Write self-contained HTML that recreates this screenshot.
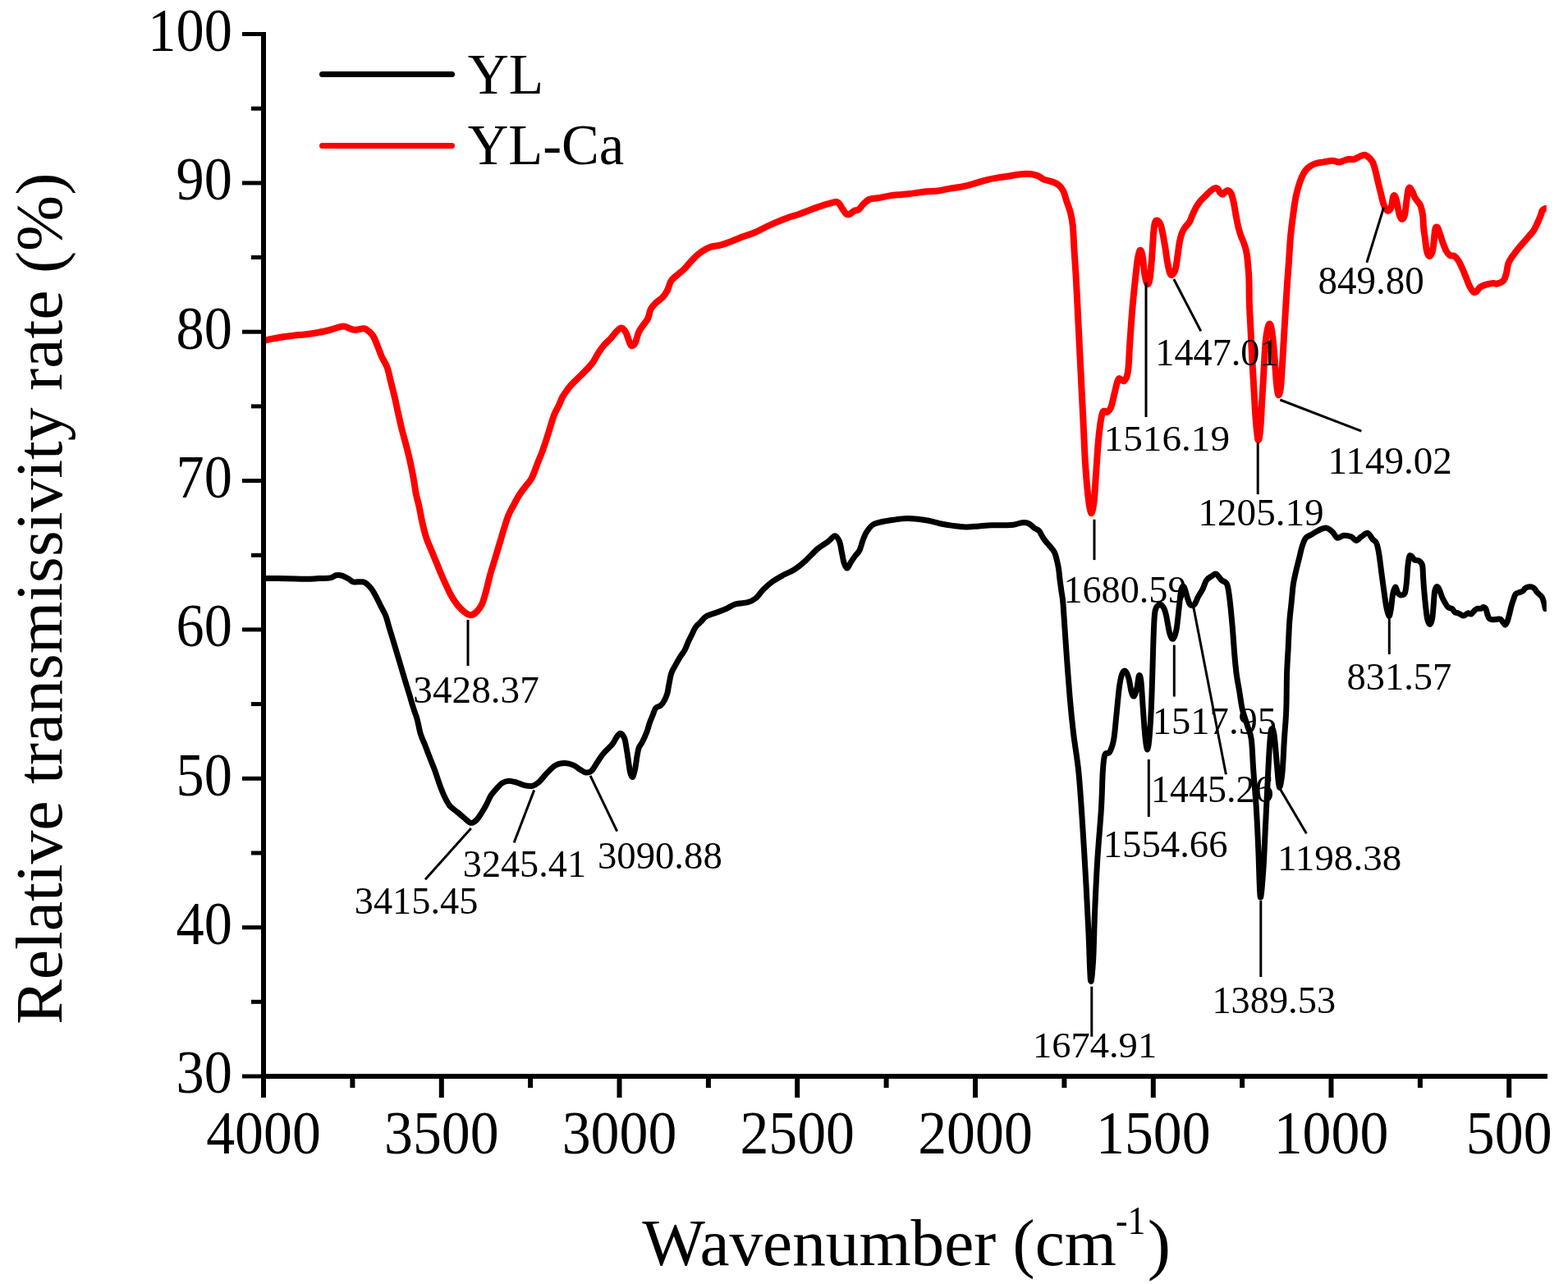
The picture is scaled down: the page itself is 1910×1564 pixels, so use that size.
<!DOCTYPE html>
<html><head><meta charset="utf-8"><title>FTIR spectra</title><style>html,body{margin:0;padding:0;background:#fff;overflow:hidden}svg{display:block}</style></head>
<body><svg width="1910" height="1564" viewBox="0 0 1910 1564">
<rect width="1910" height="1564" fill="#fff"/>
<defs><clipPath id="pc"><rect x="318" y="0" width="1565.8" height="1320"/></clipPath></defs>
<g clip-path="url(#pc)" fill="none" stroke-width="7" stroke-linejoin="round" stroke-linecap="round">
<path d="M321.0,704.6 C324.0,704.6 332.6,704.5 339.1,704.6 C345.6,704.7 354.3,704.9 360.2,705.0 C366.1,705.1 369.6,705.4 374.3,705.3 C379.0,705.2 383.6,704.8 388.3,704.6 C393.0,704.4 398.9,704.5 402.4,703.9 C405.9,703.3 407.0,701.3 409.4,700.8 C411.8,700.3 413.9,700.4 416.5,701.1 C419.1,701.9 422.6,704.0 424.9,705.3 C427.2,706.6 427.7,708.2 430.5,708.8 C433.3,709.4 439.0,708.3 441.8,708.8 C444.6,709.3 445.5,710.2 447.4,711.7 C449.3,713.2 451.1,715.3 453.0,718.0 C454.9,720.7 456.8,724.3 458.7,727.8 C460.6,731.3 462.4,735.4 464.3,739.1 C466.2,742.9 468.3,746.1 469.9,750.3 C471.5,754.5 472.7,759.7 474.1,764.4 C475.5,769.1 477.0,773.8 478.4,778.5 C479.8,783.2 481.2,787.8 482.6,792.5 C484.0,797.2 485.4,801.9 486.8,806.6 C488.2,811.3 489.6,816.0 491.0,820.7 C492.4,825.4 493.8,830.0 495.2,834.7 C496.6,839.4 498.1,844.1 499.5,848.8 C500.9,853.5 502.2,858.3 503.7,862.9 C505.1,867.5 506.8,871.1 508.2,876.3 C509.6,881.5 510.7,888.8 512.3,894.0 C513.9,899.2 515.7,902.4 517.7,907.6 C519.7,912.8 522.5,920.1 524.5,925.3 C526.5,930.5 528.1,934.0 529.9,939.0 C531.7,944.0 533.6,950.3 535.4,955.3 C537.2,960.3 538.8,964.6 540.8,968.9 C542.8,973.2 544.9,977.8 547.6,981.2 C550.3,984.6 554.2,986.8 557.2,989.3 C560.2,991.8 562.6,993.9 565.3,996.1 C568.0,998.3 571.0,1001.8 573.5,1002.3 C576.0,1002.8 578.0,1001.1 580.3,998.9 C582.6,996.7 585.0,992.5 587.1,989.3 C589.2,986.1 590.8,983.2 592.6,979.8 C594.4,976.4 596.0,972.1 598.0,968.9 C600.0,965.7 602.5,963.2 604.8,960.7 C607.1,958.2 609.1,955.5 611.6,953.9 C614.1,952.3 616.8,951.3 619.8,951.2 C622.8,951.1 626.1,952.3 629.3,953.2 C632.5,954.1 635.7,956.0 638.9,956.7 C642.1,957.4 645.5,958.0 648.4,957.3 C651.3,956.6 653.5,955.2 656.5,952.6 C659.5,950.0 662.7,945.1 666.1,941.7 C669.5,938.3 673.4,934.2 677.0,932.1 C680.6,930.0 684.3,929.4 687.9,929.4 C691.5,929.4 695.5,930.7 698.7,932.1 C701.9,933.5 704.4,936.1 706.9,937.6 C709.4,939.1 711.4,940.8 713.7,941.0 C716.0,941.2 718.0,941.4 720.5,939.0 C723.0,936.6 726.2,930.3 728.7,926.7 C731.2,923.1 732.6,920.6 735.5,917.2 C738.4,913.8 743.4,909.5 745.9,906.5 C748.4,903.5 748.7,901.3 750.3,899.1 C751.9,896.9 753.7,893.2 755.4,893.2 C757.1,893.2 759.2,895.7 760.6,899.1 C762.0,902.5 762.6,908.9 763.5,913.8 C764.4,918.7 765.0,923.8 765.7,928.5 C766.4,933.2 767.0,938.8 767.9,941.8 C768.8,944.8 769.9,947.2 770.9,946.2 C771.9,945.2 772.9,940.1 773.8,935.9 C774.6,931.7 775.3,925.4 776.0,921.2 C776.7,917.0 777.1,913.9 778.2,910.9 C779.3,907.9 781.0,906.7 782.6,903.5 C784.2,900.3 786.3,895.7 787.8,891.8 C789.3,887.9 790.3,883.4 791.5,880.0 C792.7,876.6 793.9,874.1 795.1,871.2 C796.3,868.3 797.2,864.4 798.8,862.4 C800.4,860.4 803.0,860.9 804.7,859.4 C806.4,857.9 807.8,856.0 809.1,853.5 C810.5,851.0 811.8,848.1 812.8,844.7 C813.8,841.3 814.1,837.1 815.0,832.9 C815.9,828.7 816.7,823.4 817.9,819.7 C819.1,816.0 820.7,814.1 822.4,810.9 C824.1,807.7 826.2,803.8 828.2,800.6 C830.2,797.4 832.4,795.0 834.1,791.8 C835.8,788.6 837.0,784.7 838.5,781.5 C840.0,778.3 841.4,775.6 842.9,772.6 C844.4,769.6 845.7,766.2 847.4,763.8 C849.1,761.3 851.0,760.1 853.2,757.9 C855.4,755.7 857.4,752.5 860.6,750.6 C863.8,748.7 868.5,747.7 872.4,746.2 C876.3,744.7 880.2,743.5 884.1,741.8 C888.0,740.1 891.4,737.2 895.9,735.9 C900.4,734.5 906.8,734.9 910.9,733.7 C915.0,732.5 917.2,731.5 920.4,728.9 C923.6,726.3 926.5,721.4 929.9,718.0 C933.3,714.6 936.7,711.5 940.8,708.5 C944.9,705.5 950.0,702.8 954.5,700.3 C959.0,697.8 963.6,696.5 968.1,693.5 C972.6,690.5 977.2,686.7 981.7,682.6 C986.2,678.5 990.8,672.9 995.3,669.0 C999.8,665.1 1005.3,662.2 1008.9,659.5 C1012.5,656.8 1014.8,652.7 1017.1,652.7 C1019.4,652.7 1021.1,656.3 1022.5,659.5 C1023.9,662.7 1024.3,667.4 1025.2,671.7 C1026.1,676.0 1026.9,681.9 1028.0,685.3 C1029.1,688.7 1030.7,692.1 1032.0,692.1 C1033.3,692.1 1034.5,687.8 1036.1,685.3 C1037.7,682.8 1039.8,679.7 1041.6,677.2 C1043.4,674.7 1045.4,673.6 1047.0,670.4 C1048.6,667.2 1049.7,661.7 1051.1,658.1 C1052.5,654.5 1053.2,651.8 1055.2,648.6 C1057.2,645.4 1059.8,641.4 1063.4,639.1 C1067.0,636.8 1072.5,636.0 1077.0,635.0 C1081.5,634.0 1086.1,633.5 1090.6,632.9 C1095.1,632.3 1099.7,631.7 1104.2,631.6 C1108.7,631.5 1113.3,631.8 1117.8,632.3 C1122.3,632.8 1126.9,633.4 1131.4,634.3 C1135.9,635.2 1140.1,636.7 1145.0,637.7 C1149.9,638.7 1155.6,639.7 1160.9,640.4 C1166.2,641.1 1171.3,641.8 1176.6,641.9 C1181.8,642.0 1187.2,641.2 1192.4,640.9 C1197.7,640.5 1202.9,640.0 1208.1,639.8 C1213.3,639.6 1219.4,639.9 1223.8,639.8 C1228.2,639.7 1230.7,639.8 1234.2,639.3 C1237.7,638.8 1241.6,637.0 1244.7,636.7 C1247.8,636.4 1250.5,636.6 1253.1,637.7 C1255.7,638.8 1258.3,642.0 1260.4,643.5 C1262.5,645.0 1263.8,644.3 1265.7,646.6 C1267.6,648.9 1269.8,654.1 1271.9,657.1 C1274.0,660.1 1276.1,661.9 1278.2,664.5 C1280.3,667.1 1282.9,669.7 1284.5,672.8 C1286.1,675.9 1286.7,679.8 1287.6,683.3 C1288.5,686.8 1289.2,690.3 1289.7,693.8 C1290.2,697.3 1290.3,699.8 1290.8,704.2 C1291.3,708.6 1292.2,714.8 1292.9,720.0 C1293.6,725.2 1294.1,724.7 1295.0,735.7 C1295.9,746.7 1297.1,767.5 1298.4,786.1 C1299.7,804.7 1301.5,829.6 1303.0,847.5 C1304.5,865.4 1305.8,878.1 1307.6,893.5 C1309.4,908.9 1312.0,921.7 1313.8,939.6 C1315.6,957.5 1316.9,978.0 1318.4,1001.0 C1319.9,1024.0 1321.7,1054.7 1323.0,1077.7 C1324.3,1100.7 1325.2,1119.6 1326.1,1139.1 C1327.0,1158.5 1327.6,1189.3 1328.5,1194.4 C1329.4,1199.5 1330.7,1184.1 1331.6,1169.8 C1332.5,1155.5 1332.8,1128.9 1333.7,1108.4 C1334.6,1087.9 1335.5,1067.5 1336.8,1047.0 C1338.1,1026.5 1340.3,1003.4 1341.4,985.6 C1342.5,967.8 1342.6,951.0 1343.3,940.0 C1344.0,929.0 1344.4,923.4 1345.8,919.4 C1347.2,915.4 1349.8,919.1 1351.6,916.1 C1353.4,913.1 1355.2,908.6 1356.6,901.1 C1358.0,893.6 1358.8,881.7 1359.9,871.2 C1361.0,860.7 1362.2,846.2 1363.3,837.9 C1364.4,829.6 1365.4,824.8 1366.6,821.3 C1367.8,817.8 1369.3,816.4 1370.7,817.2 C1372.1,818.0 1373.7,822.0 1374.9,826.3 C1376.2,830.6 1377.1,839.3 1378.2,842.9 C1379.3,846.5 1380.4,848.7 1381.5,847.9 C1382.6,847.1 1383.9,842.0 1384.9,837.9 C1385.9,833.8 1386.6,824.4 1387.4,823.0 C1388.2,821.6 1389.1,823.0 1389.9,829.6 C1390.7,836.2 1391.5,851.8 1392.3,862.9 C1393.1,874.0 1394.0,887.8 1394.8,896.1 C1395.6,904.4 1396.5,912.0 1397.3,912.8 C1398.1,913.6 1399.0,909.4 1399.8,901.1 C1400.6,892.8 1401.6,877.6 1402.3,862.9 C1403.0,848.2 1403.5,829.6 1404.0,813.0 C1404.5,796.4 1405.0,774.7 1405.6,763.1 C1406.1,751.5 1406.2,747.6 1407.3,743.2 C1408.4,738.8 1410.6,737.0 1412.3,736.5 C1414.0,736.0 1415.9,737.7 1417.3,739.9 C1418.7,742.1 1419.3,744.5 1420.6,749.8 C1421.8,755.0 1423.4,766.7 1424.8,771.4 C1426.2,776.1 1427.5,778.9 1428.9,778.1 C1430.3,777.3 1431.8,773.1 1433.1,766.5 C1434.3,759.9 1435.4,746.2 1436.4,738.2 C1437.4,730.2 1437.9,722.1 1438.9,718.2 C1439.9,714.3 1441.0,713.2 1442.2,714.9 C1443.5,716.6 1445.2,724.6 1446.4,728.2 C1447.7,731.8 1448.3,735.1 1449.7,736.5 C1451.1,737.9 1453.0,738.1 1454.7,736.5 C1456.4,734.9 1458.0,729.6 1459.7,726.6 C1461.4,723.6 1463.0,721.5 1464.7,718.2 C1466.4,714.9 1467.8,709.4 1469.7,706.6 C1471.6,703.8 1474.4,702.9 1476.3,701.6 C1478.2,700.4 1479.4,698.3 1481.3,699.1 C1483.2,699.9 1485.7,704.5 1487.9,706.6 C1490.1,708.7 1492.9,707.7 1494.6,711.6 C1496.3,715.5 1496.8,721.3 1497.9,729.9 C1499.0,738.5 1500.2,752.0 1501.2,763.1 C1502.2,774.2 1502.9,786.7 1503.7,796.4 C1504.5,806.1 1505.2,813.7 1506.2,821.3 C1507.2,828.9 1508.5,834.8 1509.7,842.0 C1510.9,849.2 1511.8,857.3 1513.4,864.3 C1515.0,871.2 1517.6,877.6 1519.4,883.7 C1521.2,889.8 1523.1,891.8 1524.3,900.7 C1525.5,909.6 1525.7,923.0 1526.7,937.2 C1527.7,951.4 1529.4,969.5 1530.4,985.7 C1531.4,1001.9 1532.0,1016.5 1532.8,1034.3 C1533.6,1052.1 1534.2,1088.5 1535.2,1092.6 C1536.2,1096.6 1537.9,1072.4 1538.9,1058.6 C1539.9,1044.8 1540.5,1026.2 1541.3,1010.0 C1542.1,993.8 1542.9,977.6 1543.7,961.4 C1544.5,945.2 1545.4,925.0 1546.2,912.9 C1547.0,900.8 1547.6,891.4 1548.6,888.6 C1549.6,885.8 1551.0,887.8 1552.2,895.9 C1553.4,904.0 1554.9,926.7 1555.9,937.2 C1556.9,947.7 1557.3,958.2 1558.3,959.0 C1559.3,959.8 1560.9,951.7 1561.9,942.0 C1562.9,932.3 1563.6,913.7 1564.4,900.7 C1565.2,887.8 1566.3,877.8 1566.8,864.3 C1567.3,850.8 1567.2,832.1 1567.6,819.5 C1568.0,806.9 1568.7,799.0 1569.2,788.8 C1569.7,778.6 1570.1,767.0 1570.7,758.1 C1571.3,749.2 1572.2,742.8 1573.0,735.1 C1573.8,727.4 1574.4,718.5 1575.3,712.1 C1576.2,705.7 1577.2,701.8 1578.4,696.7 C1579.6,691.6 1580.9,686.5 1582.2,681.4 C1583.5,676.3 1584.6,670.4 1586.0,666.0 C1587.4,661.6 1588.5,657.8 1590.6,655.3 C1592.6,652.8 1595.7,652.2 1598.3,650.7 C1600.9,649.2 1603.2,647.4 1606.0,646.1 C1608.8,644.8 1612.4,642.8 1615.2,643.0 C1618.0,643.2 1620.6,645.6 1622.9,647.6 C1625.2,649.6 1626.7,654.5 1629.0,655.3 C1631.3,656.1 1633.9,652.5 1636.7,652.2 C1639.5,652.0 1643.4,652.8 1645.9,653.8 C1648.5,654.8 1650.0,658.4 1652.0,658.4 C1654.0,658.4 1655.9,655.3 1658.2,653.8 C1660.5,652.3 1663.5,648.7 1665.8,649.2 C1668.1,649.7 1670.2,654.8 1672.0,656.8 C1673.8,658.8 1675.3,658.6 1676.6,661.4 C1677.9,664.2 1678.6,667.8 1679.6,673.7 C1680.6,679.6 1681.7,689.0 1682.7,696.7 C1683.7,704.4 1684.8,712.5 1685.8,719.7 C1686.8,726.9 1687.8,734.6 1688.8,739.7 C1689.8,744.8 1691.0,749.9 1691.9,750.4 C1692.8,750.9 1693.4,747.1 1694.2,742.8 C1695.0,738.4 1695.6,728.9 1696.5,724.3 C1697.4,719.7 1698.5,715.4 1699.6,715.1 C1700.7,714.9 1701.8,721.2 1703.1,722.8 C1704.4,724.4 1705.9,725.1 1707.3,724.9 C1708.7,724.7 1710.5,724.8 1711.5,721.8 C1712.5,718.8 1713.1,712.2 1713.6,707.1 C1714.1,702.0 1714.2,696.3 1714.7,691.4 C1715.2,686.5 1715.9,680.1 1716.8,677.8 C1717.7,675.5 1718.9,677.1 1719.9,677.8 C1720.9,678.5 1721.6,681.1 1723.0,682.0 C1724.4,682.9 1726.7,682.0 1728.3,683.0 C1729.9,684.0 1731.6,685.1 1732.5,688.3 C1733.4,691.4 1733.2,697.0 1733.5,701.9 C1733.8,706.8 1734.1,711.5 1734.6,717.6 C1735.1,723.7 1735.9,732.4 1736.6,738.5 C1737.3,744.6 1737.8,750.5 1738.7,754.2 C1739.6,757.9 1740.9,760.5 1741.9,760.5 C1742.9,760.5 1743.8,757.9 1744.5,754.2 C1745.2,750.5 1745.6,744.1 1746.1,738.5 C1746.6,732.9 1746.9,724.7 1747.6,720.7 C1748.3,716.7 1749.3,714.9 1750.3,714.5 C1751.3,714.1 1752.4,716.5 1753.4,718.6 C1754.4,720.7 1755.5,724.5 1756.5,727.0 C1757.5,729.5 1758.5,731.2 1759.7,733.3 C1760.9,735.4 1762.3,738.2 1763.9,739.6 C1765.5,741.0 1767.7,740.7 1769.1,741.7 C1770.5,742.8 1771.1,745.0 1772.3,745.9 C1773.5,746.8 1774.7,746.2 1776.4,746.9 C1778.1,747.6 1780.8,750.1 1782.7,750.1 C1784.6,750.1 1786.4,747.2 1788.0,746.9 C1789.6,746.5 1790.7,748.6 1792.1,748.0 C1793.5,747.4 1795.2,744.4 1796.4,743.3 C1797.7,742.2 1798.2,741.8 1799.6,741.4 C1801.0,741.0 1803.5,741.4 1804.7,741.1 C1805.9,740.8 1805.8,739.5 1806.6,739.5 C1807.4,739.5 1808.9,740.0 1809.8,741.4 C1810.7,742.8 1811.0,745.9 1811.7,747.8 C1812.4,749.7 1812.7,751.7 1813.7,752.9 C1814.7,754.1 1815.8,754.6 1817.5,754.8 C1819.2,755.0 1822.2,754.3 1823.9,754.2 C1825.6,754.1 1826.5,753.6 1827.7,754.2 C1828.9,754.8 1829.9,756.8 1830.9,758.0 C1831.9,759.2 1832.7,761.3 1833.5,761.2 C1834.3,761.1 1835.2,759.2 1836.0,757.4 C1836.8,755.6 1837.4,752.6 1838.0,750.4 C1838.6,748.2 1839.1,746.1 1839.6,744.0 C1840.1,741.9 1840.5,740.0 1841.2,737.6 C1841.9,735.2 1842.9,732.2 1843.7,729.9 C1844.5,727.5 1845.1,724.9 1846.3,723.5 C1847.5,722.1 1849.3,722.2 1850.8,721.6 C1852.3,721.0 1854.0,720.6 1855.2,719.7 C1856.4,718.9 1856.7,717.3 1857.8,716.5 C1858.9,715.7 1860.3,715.2 1861.6,714.9 C1862.9,714.6 1864.3,714.6 1865.5,714.9 C1866.7,715.2 1867.6,715.5 1868.7,716.5 C1869.8,717.5 1870.8,719.6 1871.9,720.9 C1873.0,722.2 1874.0,723.0 1875.1,724.1 C1876.2,725.2 1877.4,725.8 1878.3,727.3 C1879.2,728.8 1879.9,731.2 1880.4,733.0 C1881.0,734.8 1881.3,736.6 1881.6,738.0 C1881.9,739.4 1882.3,740.9 1882.4,741.5" stroke="#000"/>
<path d="M321.4,415.1 C323.1,414.7 327.6,413.5 331.6,412.7 C335.6,411.9 340.7,410.9 345.2,410.2 C349.7,409.5 354.2,409.1 358.8,408.6 C363.4,408.1 367.9,407.8 372.5,407.2 C377.1,406.6 381.6,406.0 386.1,405.2 C390.6,404.4 395.2,403.6 399.7,402.5 C404.2,401.4 409.9,399.2 413.3,398.4 C416.7,397.6 417.2,397.1 420.1,397.7 C423.1,398.3 427.6,401.4 431.0,401.8 C434.4,402.2 438.0,400.5 440.5,400.4 C443.0,400.3 443.7,399.7 446.0,401.1 C448.3,402.5 451.8,405.3 454.1,408.6 C456.4,411.9 457.8,416.5 459.6,420.8 C461.4,425.1 463.0,430.0 465.0,434.5 C467.0,439.0 470.0,443.0 471.8,448.0 C473.6,453.0 474.3,458.0 475.9,464.4 C477.5,470.8 479.7,479.4 481.3,486.2 C482.9,493.0 484.0,499.1 485.4,505.2 C486.8,511.3 487.9,516.5 489.5,522.9 C491.1,529.3 493.4,537.2 495.0,543.4 C496.6,549.6 497.7,553.7 499.1,560.0 C500.5,566.3 502.1,574.1 503.4,581.1 C504.7,588.1 505.7,596.3 506.9,602.2 C508.1,608.1 509.1,610.4 510.4,616.3 C511.7,622.2 513.1,630.8 514.6,637.4 C516.1,644.0 517.7,650.3 519.5,655.7 C521.3,661.1 523.1,664.6 525.2,669.7 C527.3,674.9 529.9,681.0 532.2,686.6 C534.5,692.2 536.4,697.2 539.2,703.5 C542.0,709.8 546.1,719.0 549.1,724.6 C552.1,730.2 554.7,733.8 557.5,737.3 C560.3,740.8 563.4,743.7 566.0,745.7 C568.6,747.7 570.7,749.2 573.0,749.2 C575.3,749.2 577.6,747.9 580.0,745.7 C582.4,743.5 585.0,740.6 587.1,735.9 C589.2,731.2 591.1,723.5 592.7,717.6 C594.3,711.7 595.5,705.9 596.9,700.7 C598.3,695.5 599.7,691.3 601.1,686.6 C602.5,681.9 604.0,677.2 605.4,672.5 C606.8,667.8 608.2,663.2 609.6,658.5 C611.0,653.8 612.2,649.6 613.8,644.4 C615.4,639.2 617.5,632.2 619.4,627.5 C621.3,622.8 623.0,620.3 625.1,616.3 C627.2,612.3 629.8,607.4 632.1,603.6 C634.4,599.9 636.5,597.3 639.1,593.8 C641.7,590.3 644.9,587.7 647.6,582.5 C650.3,577.3 653.2,568.3 655.5,562.6 C657.8,556.9 659.2,553.7 661.1,548.5 C663.0,543.3 665.1,536.8 666.7,531.6 C668.4,526.5 669.6,522.1 671.0,517.6 C672.4,513.1 673.6,508.9 675.2,504.9 C676.8,500.9 679.2,497.2 680.8,493.7 C682.4,490.2 683.4,486.9 685.0,483.8 C686.6,480.8 688.7,478.0 690.6,475.4 C692.5,472.8 693.7,471.1 696.3,468.3 C698.9,465.5 702.6,462.0 706.1,458.5 C709.6,455.0 714.6,450.2 717.4,447.2 C720.2,444.1 721.1,443.0 723.0,440.2 C724.9,437.4 726.5,433.6 728.6,430.3 C730.7,427.0 733.1,423.5 735.7,420.5 C738.3,417.5 741.5,414.9 744.1,412.1 C746.7,409.3 749.0,405.7 751.1,403.6 C753.2,401.5 754.9,399.2 756.8,399.4 C758.7,399.6 760.8,402.2 762.4,405.0 C764.0,407.8 765.4,413.6 766.6,416.3 C767.8,419.0 768.2,421.0 769.4,421.2 C770.6,421.4 772.3,420.4 773.7,417.7 C775.1,415.0 776.5,408.3 777.9,405.0 C779.3,401.7 780.2,400.8 782.1,398.0 C784.0,395.2 787.3,391.7 789.1,388.1 C790.9,384.5 791.0,379.8 792.7,376.5 C794.4,373.2 797.0,370.9 799.5,368.4 C802.0,365.9 805.4,364.1 807.7,361.6 C810.0,359.1 811.5,356.6 813.1,353.4 C814.7,350.2 815.4,345.4 817.2,342.5 C819.0,339.6 821.3,338.2 824.0,335.7 C826.7,333.2 830.2,330.9 833.6,327.5 C837.0,324.1 841.1,318.7 844.5,315.3 C847.9,311.9 850.6,309.5 854.0,307.1 C857.4,304.7 860.8,302.5 864.9,301.0 C869.0,299.5 874.0,299.6 878.5,298.3 C883.0,297.1 887.6,295.2 892.1,293.5 C896.6,291.8 901.2,289.8 905.7,288.1 C910.2,286.4 914.8,285.2 919.3,283.3 C923.8,281.4 928.4,278.6 932.9,276.5 C937.4,274.4 942.0,272.3 946.5,270.4 C951.0,268.5 955.7,266.5 960.2,264.9 C964.8,263.3 969.3,262.4 973.8,260.8 C978.3,259.2 982.9,257.1 987.4,255.4 C991.9,253.7 997.1,251.8 1001.0,250.6 C1004.9,249.3 1007.8,248.7 1010.5,247.9 C1013.2,247.1 1015.5,246.0 1017.3,245.9 C1019.1,245.8 1019.8,245.6 1021.4,247.2 C1023.0,248.8 1025.3,253.1 1026.9,255.4 C1028.5,257.7 1029.7,259.9 1031.0,260.8 C1032.3,261.7 1033.4,261.5 1035.0,260.8 C1036.6,260.1 1038.7,257.7 1040.5,256.8 C1042.3,255.9 1044.0,256.6 1045.9,255.2 C1047.8,253.8 1049.5,250.7 1051.7,248.6 C1053.9,246.5 1056.2,244.0 1059.1,242.8 C1062.0,241.6 1065.1,242.0 1069.3,241.3 C1073.5,240.6 1079.1,239.1 1084.0,238.4 C1088.9,237.7 1093.7,237.4 1098.6,236.9 C1103.5,236.4 1108.4,236.0 1113.3,235.4 C1118.2,234.8 1123.1,233.7 1128.0,233.2 C1132.9,232.7 1137.7,233.1 1142.6,232.5 C1147.5,231.9 1152.4,230.4 1157.3,229.6 C1162.2,228.8 1167.1,228.4 1172.0,227.4 C1176.9,226.4 1181.7,225.0 1186.6,223.7 C1191.5,222.3 1196.4,220.5 1201.3,219.3 C1206.2,218.1 1211.0,217.2 1215.9,216.4 C1220.8,215.6 1225.7,214.9 1230.6,214.2 C1235.5,213.5 1241.0,212.4 1245.2,212.0 C1249.4,211.6 1252.3,211.6 1255.5,212.0 C1258.7,212.4 1261.6,213.1 1264.3,214.2 C1267.0,215.3 1268.7,217.4 1271.6,218.6 C1274.5,219.8 1279.0,220.4 1281.9,221.5 C1284.8,222.6 1287.0,223.4 1289.2,225.2 C1291.4,227.0 1293.4,229.1 1295.1,232.5 C1296.8,235.9 1298.0,241.3 1299.5,245.7 C1301.0,250.1 1302.7,254.0 1303.9,258.9 C1305.1,263.8 1306.0,267.6 1306.8,275.0 C1307.5,282.4 1307.8,292.6 1308.4,303.0 C1309.1,313.4 1309.9,324.1 1310.7,337.5 C1311.5,350.9 1312.2,368.2 1313.0,383.5 C1313.8,398.8 1314.5,414.2 1315.3,429.5 C1316.1,444.8 1316.8,460.2 1317.6,475.5 C1318.4,490.8 1319.1,506.1 1319.9,521.5 C1320.7,536.9 1321.2,553.4 1322.2,567.6 C1323.2,581.8 1324.6,597.1 1325.7,606.7 C1326.8,616.3 1327.9,624.2 1329.1,625.0 C1330.2,625.8 1331.6,618.9 1332.6,611.3 C1333.6,603.6 1334.0,592.1 1334.9,579.1 C1335.9,566.1 1337.0,545.7 1338.3,533.0 C1339.6,520.3 1341.2,508.3 1342.9,503.1 C1344.6,497.9 1347.0,503.1 1348.7,502.0 C1350.4,500.9 1351.8,500.2 1353.3,496.2 C1354.8,492.2 1356.4,483.6 1357.9,477.8 C1359.4,472.1 1360.6,464.0 1362.5,461.7 C1364.4,459.4 1367.5,465.5 1369.4,464.0 C1371.3,462.5 1372.8,460.2 1374.0,452.5 C1375.2,444.8 1375.3,431.4 1376.3,418.0 C1377.2,404.6 1378.5,385.4 1379.7,372.0 C1380.9,358.6 1382.2,346.9 1383.2,337.5 C1384.2,328.1 1384.9,320.9 1385.8,315.5 C1386.7,310.1 1387.6,305.7 1388.6,304.9 C1389.5,304.1 1390.5,305.8 1391.5,310.7 C1392.5,315.6 1393.4,328.7 1394.4,334.6 C1395.4,340.5 1396.7,345.3 1397.7,346.1 C1398.7,346.9 1399.7,344.5 1400.6,339.4 C1401.5,334.3 1402.3,324.3 1403.0,315.5 C1403.7,306.7 1404.3,294.1 1404.9,286.7 C1405.5,279.3 1406.0,274.4 1406.8,271.4 C1407.6,268.4 1408.6,268.2 1409.7,268.5 C1410.8,268.8 1412.5,270.6 1413.6,273.3 C1414.7,276.0 1415.5,280.2 1416.4,284.8 C1417.4,289.4 1418.3,295.2 1419.3,301.1 C1420.3,307.0 1421.2,315.0 1422.2,320.3 C1423.2,325.6 1424.1,330.3 1425.1,332.7 C1426.0,335.1 1426.8,335.4 1427.9,334.6 C1429.0,333.8 1430.7,331.9 1431.8,327.9 C1432.9,323.9 1433.8,316.0 1434.6,310.7 C1435.4,305.4 1435.8,300.6 1436.6,296.3 C1437.4,292.0 1438.3,288.0 1439.4,284.8 C1440.5,281.6 1441.7,279.5 1443.3,277.1 C1444.9,274.7 1447.4,273.1 1449.0,270.4 C1450.6,267.7 1451.5,264.0 1452.9,260.8 C1454.4,257.6 1456.1,253.9 1457.7,251.2 C1459.3,248.5 1460.8,246.6 1462.5,244.5 C1464.2,242.4 1466.3,240.7 1468.2,238.8 C1470.1,236.9 1472.1,234.6 1474.0,233.0 C1475.9,231.4 1478.1,229.7 1479.7,229.2 C1481.3,228.7 1482.4,229.1 1483.5,230.1 C1484.6,231.1 1485.4,233.8 1486.4,234.9 C1487.4,236.0 1488.3,237.0 1489.3,236.8 C1490.3,236.7 1491.1,234.8 1492.2,234.0 C1493.3,233.2 1494.7,231.8 1496.0,232.1 C1497.3,232.4 1498.7,233.5 1499.8,235.9 C1500.9,238.3 1501.7,241.9 1502.7,246.4 C1503.7,250.9 1504.6,257.6 1505.6,262.7 C1506.6,267.8 1507.5,273.1 1508.5,277.1 C1509.5,281.1 1510.3,283.5 1511.4,286.7 C1512.5,289.9 1514.1,293.1 1515.2,296.3 C1516.3,299.5 1517.3,301.9 1518.1,305.9 C1518.9,309.9 1519.5,314.6 1520.0,320.3 C1520.5,326.0 1521.1,332.0 1521.4,340.0 C1521.7,348.0 1521.5,358.7 1521.8,368.1 C1522.1,377.5 1522.6,384.6 1523.2,396.3 C1523.8,408.0 1524.6,425.6 1525.3,438.5 C1526.0,451.4 1526.7,462.0 1527.4,473.7 C1528.1,485.4 1528.7,498.5 1529.5,508.8 C1530.3,519.1 1531.5,533.2 1532.4,535.6 C1533.4,538.0 1534.4,530.9 1535.2,522.9 C1536.0,514.9 1536.6,499.4 1537.3,487.7 C1538.0,476.0 1538.7,464.2 1539.4,452.5 C1540.1,440.8 1540.7,426.3 1541.5,417.4 C1542.3,408.5 1543.4,402.9 1544.3,399.1 C1545.2,395.4 1546.2,393.5 1547.1,394.9 C1548.0,396.3 1549.0,400.2 1549.9,407.5 C1550.9,414.8 1552.0,428.6 1552.8,438.5 C1553.6,448.4 1554.2,459.6 1554.9,466.6 C1555.6,473.6 1556.2,479.5 1557.0,480.7 C1557.8,481.9 1559.0,479.6 1559.8,473.7 C1560.6,467.8 1561.2,456.1 1561.9,445.5 C1562.6,434.9 1563.3,422.0 1564.0,410.3 C1564.7,398.6 1565.4,386.1 1566.1,375.2 C1566.8,364.3 1567.4,354.0 1568.0,345.0 C1568.6,336.0 1569.1,330.7 1569.8,321.3 C1570.5,311.9 1571.1,298.7 1572.0,288.7 C1572.9,278.7 1574.1,269.6 1575.2,261.5 C1576.3,253.3 1577.2,246.1 1578.5,239.8 C1579.8,233.5 1581.3,228.0 1582.8,223.5 C1584.2,219.0 1585.6,215.7 1587.2,212.6 C1588.8,209.5 1590.2,207.2 1592.6,205.0 C1594.9,202.8 1598.0,200.9 1601.3,199.6 C1604.6,198.3 1608.6,198.0 1612.2,197.4 C1615.8,196.8 1619.8,195.8 1623.0,195.8 C1626.2,195.8 1628.6,197.7 1631.7,197.4 C1634.8,197.1 1638.6,194.7 1641.5,194.1 C1644.4,193.5 1646.7,194.6 1649.1,194.1 C1651.5,193.6 1653.5,191.8 1655.7,190.9 C1657.9,190.0 1660.2,188.5 1662.2,188.7 C1664.2,188.9 1666.0,190.6 1667.6,192.0 C1669.2,193.4 1670.7,194.9 1672.0,197.4 C1673.3,199.9 1674.1,203.2 1675.2,207.2 C1676.3,211.2 1677.4,216.8 1678.5,221.3 C1679.6,225.8 1680.6,230.0 1681.7,234.3 C1682.8,238.7 1683.9,244.0 1685.0,247.4 C1686.1,250.8 1687.2,253.5 1688.3,255.0 C1689.4,256.5 1690.4,257.2 1691.5,256.6 C1692.6,256.1 1693.9,254.5 1694.8,251.7 C1695.7,248.9 1696.3,242.0 1697.0,239.8 C1697.7,237.6 1698.4,237.8 1699.1,238.7 C1699.8,239.6 1700.4,241.4 1701.3,245.2 C1702.2,249.0 1703.5,257.9 1704.6,261.5 C1705.7,265.1 1706.7,267.0 1707.8,267.0 C1708.9,267.0 1710.2,265.1 1711.1,261.5 C1712.0,257.9 1712.6,250.3 1713.3,245.2 C1714.0,240.1 1714.7,233.8 1715.4,231.1 C1716.1,228.4 1716.7,228.4 1717.6,228.9 C1718.5,229.4 1720.0,232.5 1720.9,234.3 C1721.8,236.1 1722.0,238.0 1723.0,239.8 C1724.0,241.6 1725.4,243.3 1726.6,245.1 C1727.8,246.9 1729.3,247.7 1730.4,250.7 C1731.5,253.7 1732.6,258.6 1733.2,263.0 C1733.8,267.4 1733.6,272.4 1734.1,277.1 C1734.6,281.8 1735.4,286.6 1736.0,291.3 C1736.6,296.0 1737.1,301.9 1737.9,305.4 C1738.7,308.8 1739.6,311.7 1740.7,312.0 C1741.8,312.3 1743.5,310.0 1744.5,307.3 C1745.5,304.6 1745.8,300.7 1746.4,296.0 C1747.0,291.3 1747.5,282.1 1748.3,279.0 C1749.1,275.9 1750.2,276.2 1751.1,277.1 C1752.0,278.1 1752.8,281.6 1753.9,284.7 C1755.0,287.8 1756.4,292.6 1757.7,296.0 C1759.0,299.4 1760.1,302.9 1761.5,305.4 C1762.9,307.9 1764.5,310.0 1766.2,311.1 C1767.9,312.2 1770.1,310.9 1771.8,312.0 C1773.5,313.1 1775.0,315.2 1776.6,317.7 C1778.2,320.2 1779.7,323.7 1781.3,327.1 C1782.9,330.6 1784.6,334.9 1786.0,338.4 C1787.4,341.8 1788.3,345.0 1789.7,347.8 C1791.1,350.6 1793.1,354.1 1794.5,355.4 C1795.9,356.7 1796.8,356.3 1798.2,355.4 C1799.6,354.4 1801.0,351.1 1802.9,349.7 C1804.8,348.3 1806.8,347.7 1809.5,346.9 C1812.2,346.1 1816.7,345.2 1819.0,345.0 C1821.3,344.8 1821.4,346.2 1823.5,345.6 C1825.6,345.0 1829.6,343.8 1831.5,341.6 C1833.4,339.4 1834.0,335.9 1835.0,332.4 C1836.0,328.9 1836.1,324.1 1837.3,320.8 C1838.5,317.5 1840.0,315.7 1841.9,312.8 C1843.8,309.9 1846.5,306.5 1848.8,303.6 C1851.1,300.7 1853.4,298.2 1855.7,295.5 C1858.0,292.8 1860.5,290.0 1862.6,287.5 C1864.7,285.0 1866.6,283.3 1868.3,280.6 C1870.0,277.9 1871.6,274.3 1872.9,271.4 C1874.2,268.5 1875.4,265.8 1876.4,263.3 C1877.4,260.8 1877.8,257.9 1878.7,256.4 C1879.7,254.9 1880.7,254.6 1882.1,254.1 C1883.5,253.6 1886.2,253.6 1887.0,253.5" stroke="#f00" stroke-width="8"/>
</g>
<g stroke="#000" stroke-width="3">
<line x1="570" y1="755" x2="570" y2="811"/>
<line x1="573.8" y1="1008.9" x2="518" y2="1071.2"/>
<line x1="650.7" y1="962.4" x2="626.1" y2="1026.5"/>
<line x1="719.1" y1="944.8" x2="751.7" y2="1012.7"/>
<line x1="1333" y1="632.7" x2="1333" y2="682.1"/>
<line x1="1396" y1="344" x2="1396" y2="508"/>
<line x1="1429.8" y1="340" x2="1462.8" y2="403.4"/>
<line x1="1532.2" y1="539.2" x2="1532.2" y2="602.1"/>
<line x1="1559.3" y1="487" x2="1658.4" y2="525.2"/>
<line x1="1685.5" y1="252.8" x2="1664.9" y2="319.7"/>
<line x1="1329.8" y1="1201.7" x2="1329.8" y2="1262.7"/>
<line x1="1399.3" y1="925" x2="1399.3" y2="995"/>
<line x1="1430.3" y1="785.6" x2="1430.3" y2="848.5"/>
<line x1="1453.9" y1="739.9" x2="1493.4" y2="943.3"/>
<line x1="1535.8" y1="1097" x2="1535.8" y2="1190"/>
<line x1="1559" y1="960.5" x2="1591.4" y2="1015.2"/>
<line x1="1692.3" y1="753.5" x2="1692.3" y2="797"/>
</g>
<g fill="#000">
<rect x="318" y="39" width="6" height="1298"/>
<rect x="318" y="1308" width="1567" height="6"/>
<rect x="295" y="1308.5" width="24" height="5"/>
<rect x="295" y="1127.2" width="24" height="5"/>
<rect x="295" y="945.8" width="24" height="5"/>
<rect x="295" y="764.4" width="24" height="5"/>
<rect x="295" y="583.1" width="24" height="5"/>
<rect x="295" y="401.7" width="24" height="5"/>
<rect x="295" y="220.4" width="24" height="5"/>
<rect x="295" y="39.0" width="24" height="5"/>
<rect x="306" y="1217.8" width="13" height="5"/>
<rect x="306" y="1036.5" width="13" height="5"/>
<rect x="306" y="855.1" width="13" height="5"/>
<rect x="306" y="673.8" width="13" height="5"/>
<rect x="306" y="492.4" width="13" height="5"/>
<rect x="306" y="311.0" width="13" height="5"/>
<rect x="306" y="129.7" width="13" height="5"/>
<rect x="534.8" y="1313" width="6" height="24"/>
<rect x="751.5" y="1313" width="6" height="24"/>
<rect x="968.2" y="1313" width="6" height="24"/>
<rect x="1185.0" y="1313" width="6" height="24"/>
<rect x="1401.8" y="1313" width="6" height="24"/>
<rect x="1618.5" y="1313" width="6" height="24"/>
<rect x="1835.2" y="1313" width="6" height="24"/>
<rect x="426.4" y="1313" width="6" height="12"/>
<rect x="643.1" y="1313" width="6" height="12"/>
<rect x="859.9" y="1313" width="6" height="12"/>
<rect x="1076.6" y="1313" width="6" height="12"/>
<rect x="1293.4" y="1313" width="6" height="12"/>
<rect x="1510.1" y="1313" width="6" height="12"/>
<rect x="1726.9" y="1313" width="6" height="12"/>
</g>
<g font-family="Liberation Serif, serif" fill="#000" font-size="73.5">
<text transform="translate(282.8,1331.3) scale(0.93,1)" text-anchor="end">30</text>
<text transform="translate(282.8,1150.0) scale(0.93,1)" text-anchor="end">40</text>
<text transform="translate(282.8,968.6) scale(0.93,1)" text-anchor="end">50</text>
<text transform="translate(282.8,787.2) scale(0.93,1)" text-anchor="end">60</text>
<text transform="translate(282.8,605.9) scale(0.93,1)" text-anchor="end">70</text>
<text transform="translate(282.8,424.5) scale(0.93,1)" text-anchor="end">80</text>
<text transform="translate(282.8,243.2) scale(0.93,1)" text-anchor="end">90</text>
<text transform="translate(282.8,61.8) scale(0.93,1)" text-anchor="end">100</text>
<text transform="translate(321.0,1405) scale(0.95,1)" text-anchor="middle">4000</text>
<text transform="translate(537.8,1405) scale(0.95,1)" text-anchor="middle">3500</text>
<text transform="translate(754.5,1405) scale(0.95,1)" text-anchor="middle">3000</text>
<text transform="translate(971.2,1405) scale(0.95,1)" text-anchor="middle">2500</text>
<text transform="translate(1188.0,1405) scale(0.95,1)" text-anchor="middle">2000</text>
<text transform="translate(1404.8,1405) scale(0.95,1)" text-anchor="middle">1500</text>
<text transform="translate(1621.5,1405) scale(0.95,1)" text-anchor="middle">1000</text>
<text transform="translate(1838.2,1405) scale(0.95,1)" text-anchor="middle">500</text>
</g>
<g font-family="Liberation Serif, serif" fill="#000">
<text transform="translate(503.33,856.4) scale(1.0366,1)" font-size="45.55">3428.37</text>
<text transform="translate(431.78,1113.3) scale(1.0103,1)" font-size="45.85">3415.45</text>
<text transform="translate(563.79,1068) scale(1.0048,1)" font-size="46.0">3245.41</text>
<text transform="translate(727.91,1058) scale(0.9933,1)" font-size="47.04">3090.88</text>
<text transform="translate(1295.39,734.4) scale(1.0014,1)" font-size="46.15">1680.59</text>
<text transform="translate(1344.63,548.6) scale(1.0433,1)" font-size="45.26">1516.19</text>
<text transform="translate(1407.35,445.4) scale(0.9863,1)" font-size="46.89">1447.01</text>
<text transform="translate(1459.43,639.6) scale(0.9932,1)" font-size="47.48">1205.19</text>
<text transform="translate(1617.62,577.4) scale(1.019,1)" font-size="46.15">1149.02</text>
<text transform="translate(1605.56,358.3) scale(0.9713,1)" font-size="48.37">849.80</text>
<text transform="translate(1257.89,1288.3) scale(1.0286,1)" font-size="45.26">1674.91</text>
<text transform="translate(1343.66,1044) scale(1.0097,1)" font-size="46.3">1554.66</text>
<text transform="translate(1403.71,894) scale(0.9973,1)" font-size="46.74">1517.95</text>
<text transform="translate(1402.03,977) scale(0.9931,1)" font-size="46.3">1445.26</text>
<text transform="translate(1476.42,1234.4) scale(1.0211,1)" font-size="45.41">1389.53</text>
<text transform="translate(1555.94,1059.7) scale(1.0407,1)" font-size="45.26">1198.38</text>
<text transform="translate(1640.41,839.8) scale(0.9952,1)" font-size="46.74">831.57</text>
<text transform="translate(569.69,114.3) scale(1.0105,1)" font-size="68.7">YL</text>
<text transform="translate(569.72,199.7) scale(0.9839,1)" font-size="69.75">YL-Ca</text>
</g>
<g font-family="Liberation Serif, serif" fill="#000">
<text transform="translate(782.3,1540.9) scale(1.0044,1)" font-size="80.89">Wavenumber (cm</text>
<text transform="translate(1358.97,1502.9) scale(0.9143,1)" font-size="47.93">-1</text>
<text transform="translate(1397.67,1543.3) scale(1.0429,1)" font-size="81.56">)</text>
<text transform="translate(75,1247.8) rotate(-90) scale(1.0091,1)" font-size="81">Relative transmissivity rate (%)</text>
</g>
<line x1="392.5" y1="90.5" x2="550.5" y2="90.5" stroke="#000" stroke-width="7" stroke-linecap="round"/>
<line x1="392.5" y1="177.4" x2="550.5" y2="177.4" stroke="#f00" stroke-width="7" stroke-linecap="round"/>
</svg></body></html>
